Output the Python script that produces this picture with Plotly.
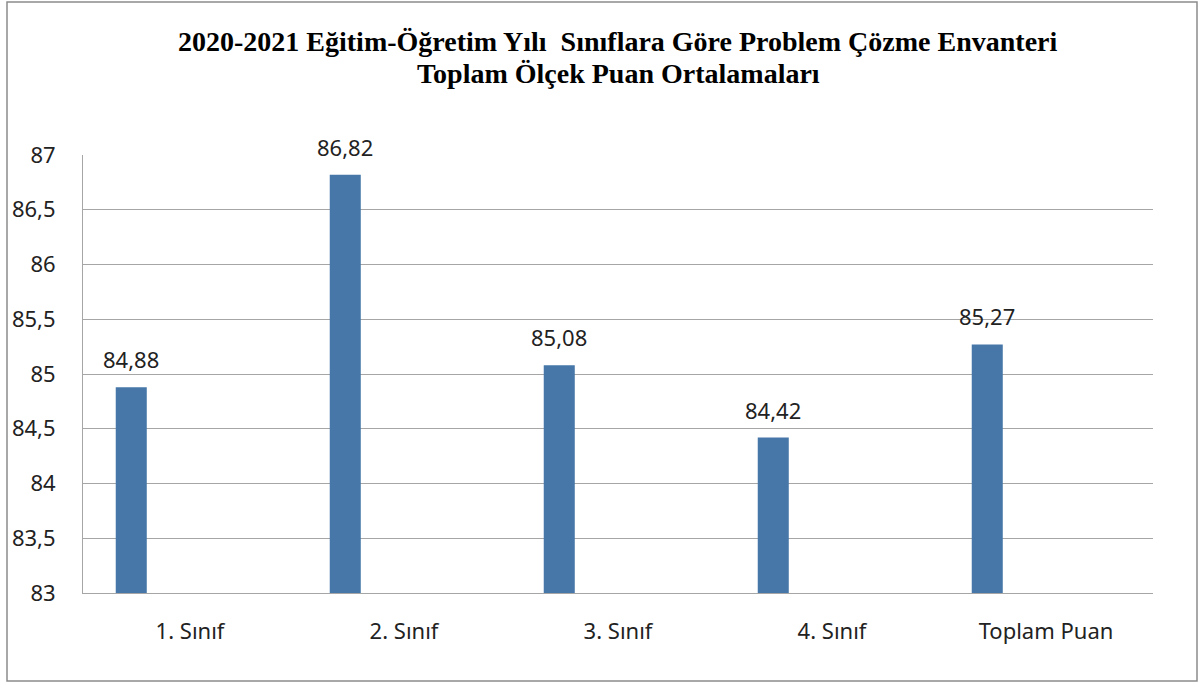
import plotly.graph_objects as go

categories = ["1. Sınıf", "2. Sınıf", "3. Sınıf", "4. Sınıf", "Toplam Puan"]
values = [84.88, 86.82, 85.08, 84.42, 85.27]
y_ticks = [83, 83.5, 84, 84.5, 85, 85.5, 86, 86.5, 87]
y_tick_labels = ["83", "83,5", "84", "84,5", "85", "85,5", "86", "86,5", "87"]
title_lines = ["2020-2021 Eğitim-Öğretim Yılı\u00a0 Sınıflara Göre Problem Çözme Envanteri",
               "Toplam Ölçek Puan Ortalamaları"]

BAR_COLOR = "#4677A8"
GRID = "#A6A6A6"
BAR_W = 0.145
BAR_OFF = -0.347
LABEL_FONT = dict(family="Noto Sans, Lato, sans-serif", size=22, color="#222222")
TITLE_FONT = dict(family="Liberation Serif, Times New Roman, serif", size=28, color="black", weight="bold")

PLOT_TOP, PLOT_H = 155, 438

fig = go.Figure()
fig.add_trace(go.Bar(
    x=categories, y=values, width=BAR_W, offset=BAR_OFF,
    marker=dict(color=BAR_COLOR, line=dict(width=0)),
    hoverinfo="x+y",
))

for i, v in enumerate(values):
    fig.add_annotation(
        x=i + BAR_OFF + BAR_W / 2, y=v, xref="x", yref="y",
        text=f"{v:.2f}".replace(".", ","), showarrow=False,
        yanchor="bottom", yshift=11, font=LABEL_FONT,
    )

# title (two lines, Excel-like tight spacing)
for line, py in zip(title_lines, [42, 73]):
    fig.add_annotation(x=0.5, xref="paper", y=1 + (PLOT_TOP - py) / PLOT_H, yref="paper",
                       yanchor="middle", xanchor="center", text=line, showarrow=False,
                       font=TITLE_FONT)

# outer chart border
fig.add_shape(type="rect", xref="paper", yref="paper",
              x0=(7 - 83) / 1070, x1=(1197 - 83) / 1070,
              y0=(593 - 681) / 438, y1=(593 - 2) / 438,
              line=dict(color="#8C8C8C", width=1.5), fillcolor="rgba(0,0,0,0)", layer="above")

fig.update_layout(
    width=1202, height=684,
    margin=dict(l=83, r=49, t=155, b=91),
    paper_bgcolor="white", plot_bgcolor="white",
    showlegend=False,
    xaxis=dict(type="category", showgrid=False, showline=True, linecolor=GRID, linewidth=1,
               ticks="", tickfont=LABEL_FONT, ticklabelstandoff=19, range=[-0.5, 4.5]),
    yaxis=dict(range=[83, 87], tickvals=y_ticks, ticktext=y_tick_labels, showgrid=True,
               gridcolor=GRID, gridwidth=1, showline=True, linecolor=GRID, linewidth=1,
               ticks="", tickfont=LABEL_FONT, ticklabelstandoff=22, zeroline=False),
)

fig.write_html("out.html", config={"displayModeBar": False},
               post_script="document.body.style.margin='0';document.body.style.overflow='hidden';")
